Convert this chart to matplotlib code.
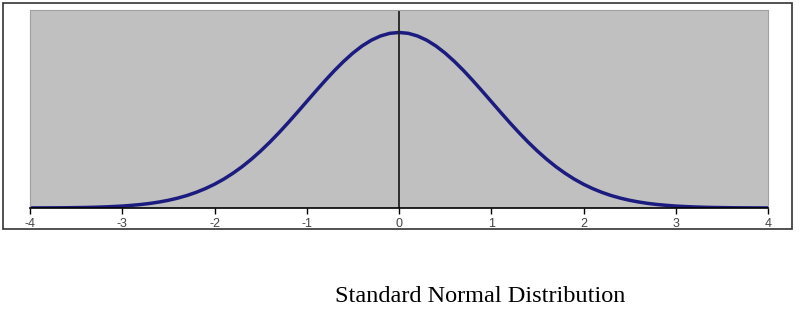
import matplotlib
matplotlib.use("Agg")
import matplotlib.pyplot as plt
from matplotlib.patches import Rectangle

# z values and density (left half, right half mirrors it)
z_left = [-4.0, -3.9, -3.8, -3.7, -3.6, -3.5, -3.4, -3.3, -3.2, -3.1,
          -3.0, -2.9, -2.8, -2.7, -2.6, -2.5, -2.4, -2.3, -2.2, -2.1,
          -2.0, -1.9, -1.8, -1.7, -1.6, -1.5, -1.4, -1.3, -1.2, -1.1,
          -1.0, -0.9, -0.8, -0.7, -0.6, -0.5, -0.4, -0.3, -0.2, -0.1, 0.0]
dens_left = [0.0001, 0.0002, 0.0003, 0.0004, 0.0006, 0.0009, 0.0012, 0.0017, 0.0024, 0.0033,
             0.0044, 0.0060, 0.0079, 0.0104, 0.0136, 0.0175, 0.0224, 0.0283, 0.0355, 0.0440,
             0.0540, 0.0656, 0.0790, 0.0940, 0.1109, 0.1295, 0.1497, 0.1714, 0.1942, 0.2179,
             0.2420, 0.2661, 0.2897, 0.3123, 0.3332, 0.3521, 0.3683, 0.3814, 0.3910, 0.3970, 0.3989]
z = z_left + [-v for v in z_left[-2::-1]]
density = dens_left + dens_left[-2::-1]

xticks = [-4, -3, -2, -1, 0, 1, 2, 3, 4]
title = "Standard Normal Distribution"

fig = plt.figure(figsize=(8, 3.11), dpi=100)

# chart area border
fig.patches.append(Rectangle((3 / 800, 1 - 229 / 311), 789 / 800, 226 / 311,
                             transform=fig.transFigure, fill=False,
                             edgecolor="#333333", linewidth=1.2))

ax = fig.add_axes([30 / 800, 1 - 208 / 311, 738 / 800, 198 / 311])
ax.set_facecolor("#c0c0c0")
ax.plot(z, density, color="#1c1c80", linewidth=2.5, solid_capstyle="round",
        solid_joinstyle="round")
ax.axvline(0, color="#222222", linewidth=1.3)

ax.set_xlim(-4, 4)
ax.set_ylim(0, 0.45)
ax.set_yticks([])
ax.set_xticks(xticks)
ax.set_xticklabels([str(t) for t in xticks], fontsize=9, color="#444444",
                   family="Liberation Sans")
ax.tick_params(axis="x", direction="out", length=4, width=1, color="black", pad=3)

for s in ["left", "right", "top"]:
    ax.spines[s].set_color("#a0a0a0")
    ax.spines[s].set_linewidth(0.8)
ax.spines["bottom"].set_color("black")
ax.spines["bottom"].set_linewidth(1.2)

fig.text(480 / 800, 1 - 297 / 311, title, ha="center", va="center",
         fontsize=17.5, family="Liberation Serif")

fig.savefig("out.png", dpi=100, facecolor="white")
